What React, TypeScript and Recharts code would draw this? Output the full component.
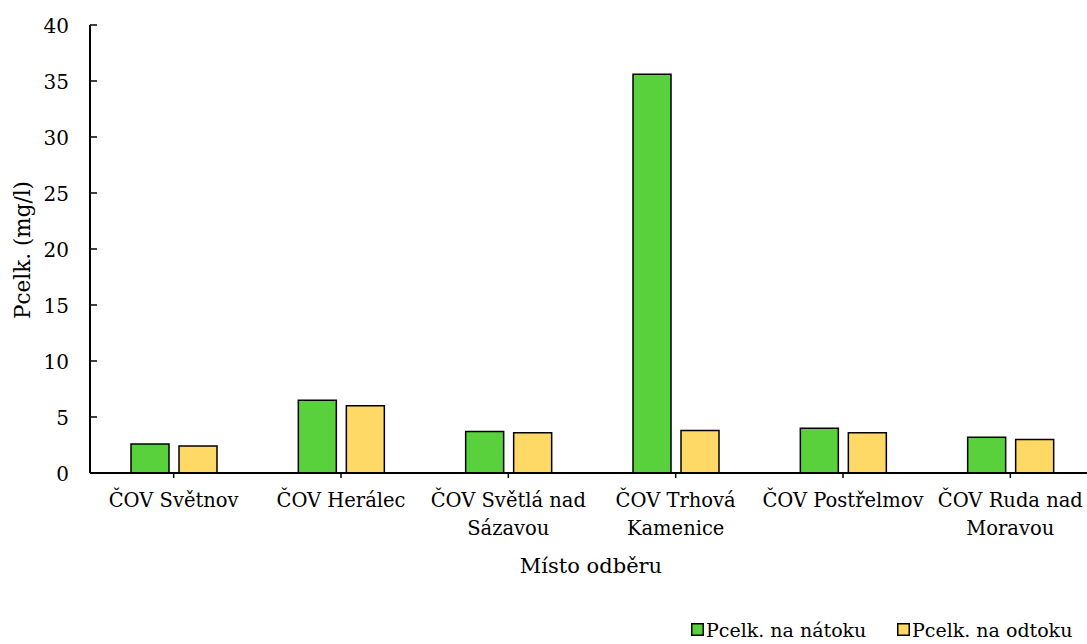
import { BarChart, Bar, XAxis, YAxis } from "recharts"

// tick labels (line breaks as in the original)
const categories = [
  "ČOV Světnov",
  "ČOV Herálec",
  "ČOV Světlá nad\nSázavou",
  "ČOV Trhová\nKamenice",
  "ČOV Postřelmov",
  "ČOV Ruda nad\nMoravou",
]
const inflow = [2.6, 6.5, 3.7, 35.6, 4.0, 3.2]
const outflow = [2.4, 6.0, 3.6, 3.8, 3.6, 3.0]
const yTicks = [0, 5, 10, 15, 20, 25, 30, 35, 40]
const seriesNames = ["Pcelk. na nátoku", "Pcelk. na odtoku"]
const seriesColors = ["#58D13C", "#FFD966"]

const data = categories.map((name, i) => ({ name, inflow: inflow[i], outflow: outflow[i] }))

// Liberation Serif doesn't resolve reliably in the sandbox, DejaVu Serif does
const font = "DejaVu Serif"

function CategoryTick(props: any) {
  const { x, payload } = props
  const lines = String(payload.value).split("\n")
  return (
    <text x={x} y={507} textAnchor="middle" fontFamily={font} fontSize={19.5} fill="#000">
      {lines.map((l, i) => (
        <tspan key={i} x={x} dy={i === 0 ? 0 : 28}>
          {l}
        </tspan>
      ))}
    </text>
  )
}

function ValueTick(props: any) {
  const { x, y, payload } = props
  return (
    <text x={x} y={y + 7.5} textAnchor="end" fontFamily={font} fontSize={20} fill="#000">
      {payload.value}
    </text>
  )
}

export default function App() {
  return (
    <div style={{ position: "fixed", left: 0, top: 0, width: 1087, height: 644, overflow: "hidden", background: "#fff" }}>
      <BarChart
        width={1100}
        height={644}
        data={data}
        margin={{ top: 25, right: 6, bottom: 71, left: 0 }}
        barSize={38}
        barGap={10}
      >
        <XAxis
          dataKey="name"
          interval={0}
          tick={<CategoryTick />}
          tickSize={5}
          axisLine={{ stroke: "#000", strokeWidth: 2 }}
          tickLine={{ stroke: "#000", strokeWidth: 1.5 }}
          height={100}
          label={{
            content: () => (
              <text x={591} y={573} textAnchor="middle" fontFamily={font} fontSize={21} fill="#000">
                Místo odběru
              </text>
            ),
          }}
        />
        <YAxis
          width={90}
          domain={[0, 40]}
          ticks={yTicks}
          interval={0}
          tickSize={-7}
          tickMargin={28}
          axisLine={{ stroke: "#000", strokeWidth: 2 }}
          tickLine={{ stroke: "#000", strokeWidth: 1.5 }}
          tick={<ValueTick />}
          label={{
            content: () => (
              <text
                transform="translate(30,250) rotate(-90)"
                textAnchor="middle"
                fontFamily={font}
                fontSize={21.5}
                fill="#000"
              >
                Pcelk. (mg/l)
              </text>
            ),
          }}
        />
        <Bar dataKey="inflow" name={seriesNames[0]} fill={seriesColors[0]} stroke="#000" strokeWidth={1.5} isAnimationActive={false} />
        <Bar dataKey="outflow" name={seriesNames[1]} fill={seriesColors[1]} stroke="#000" strokeWidth={1.5} isAnimationActive={false} />
      </BarChart>
      <svg width={1087} height={644} style={{ position: "absolute", left: 0, top: 0, pointerEvents: "none" }}>
        {seriesNames.map((n, i) => (
          <g key={n} transform={`translate(${691 + i * 206},0)`}>
            <rect x={0.75} y={623.75} width={11.5} height={11.5} fill={seriesColors[i]} stroke="#000" strokeWidth={1.5} />
            <text x={15} y={637} fontFamily={font} fontSize={19} fill="#000">
              {n}
            </text>
          </g>
        ))}
      </svg>
    </div>
  )
}
